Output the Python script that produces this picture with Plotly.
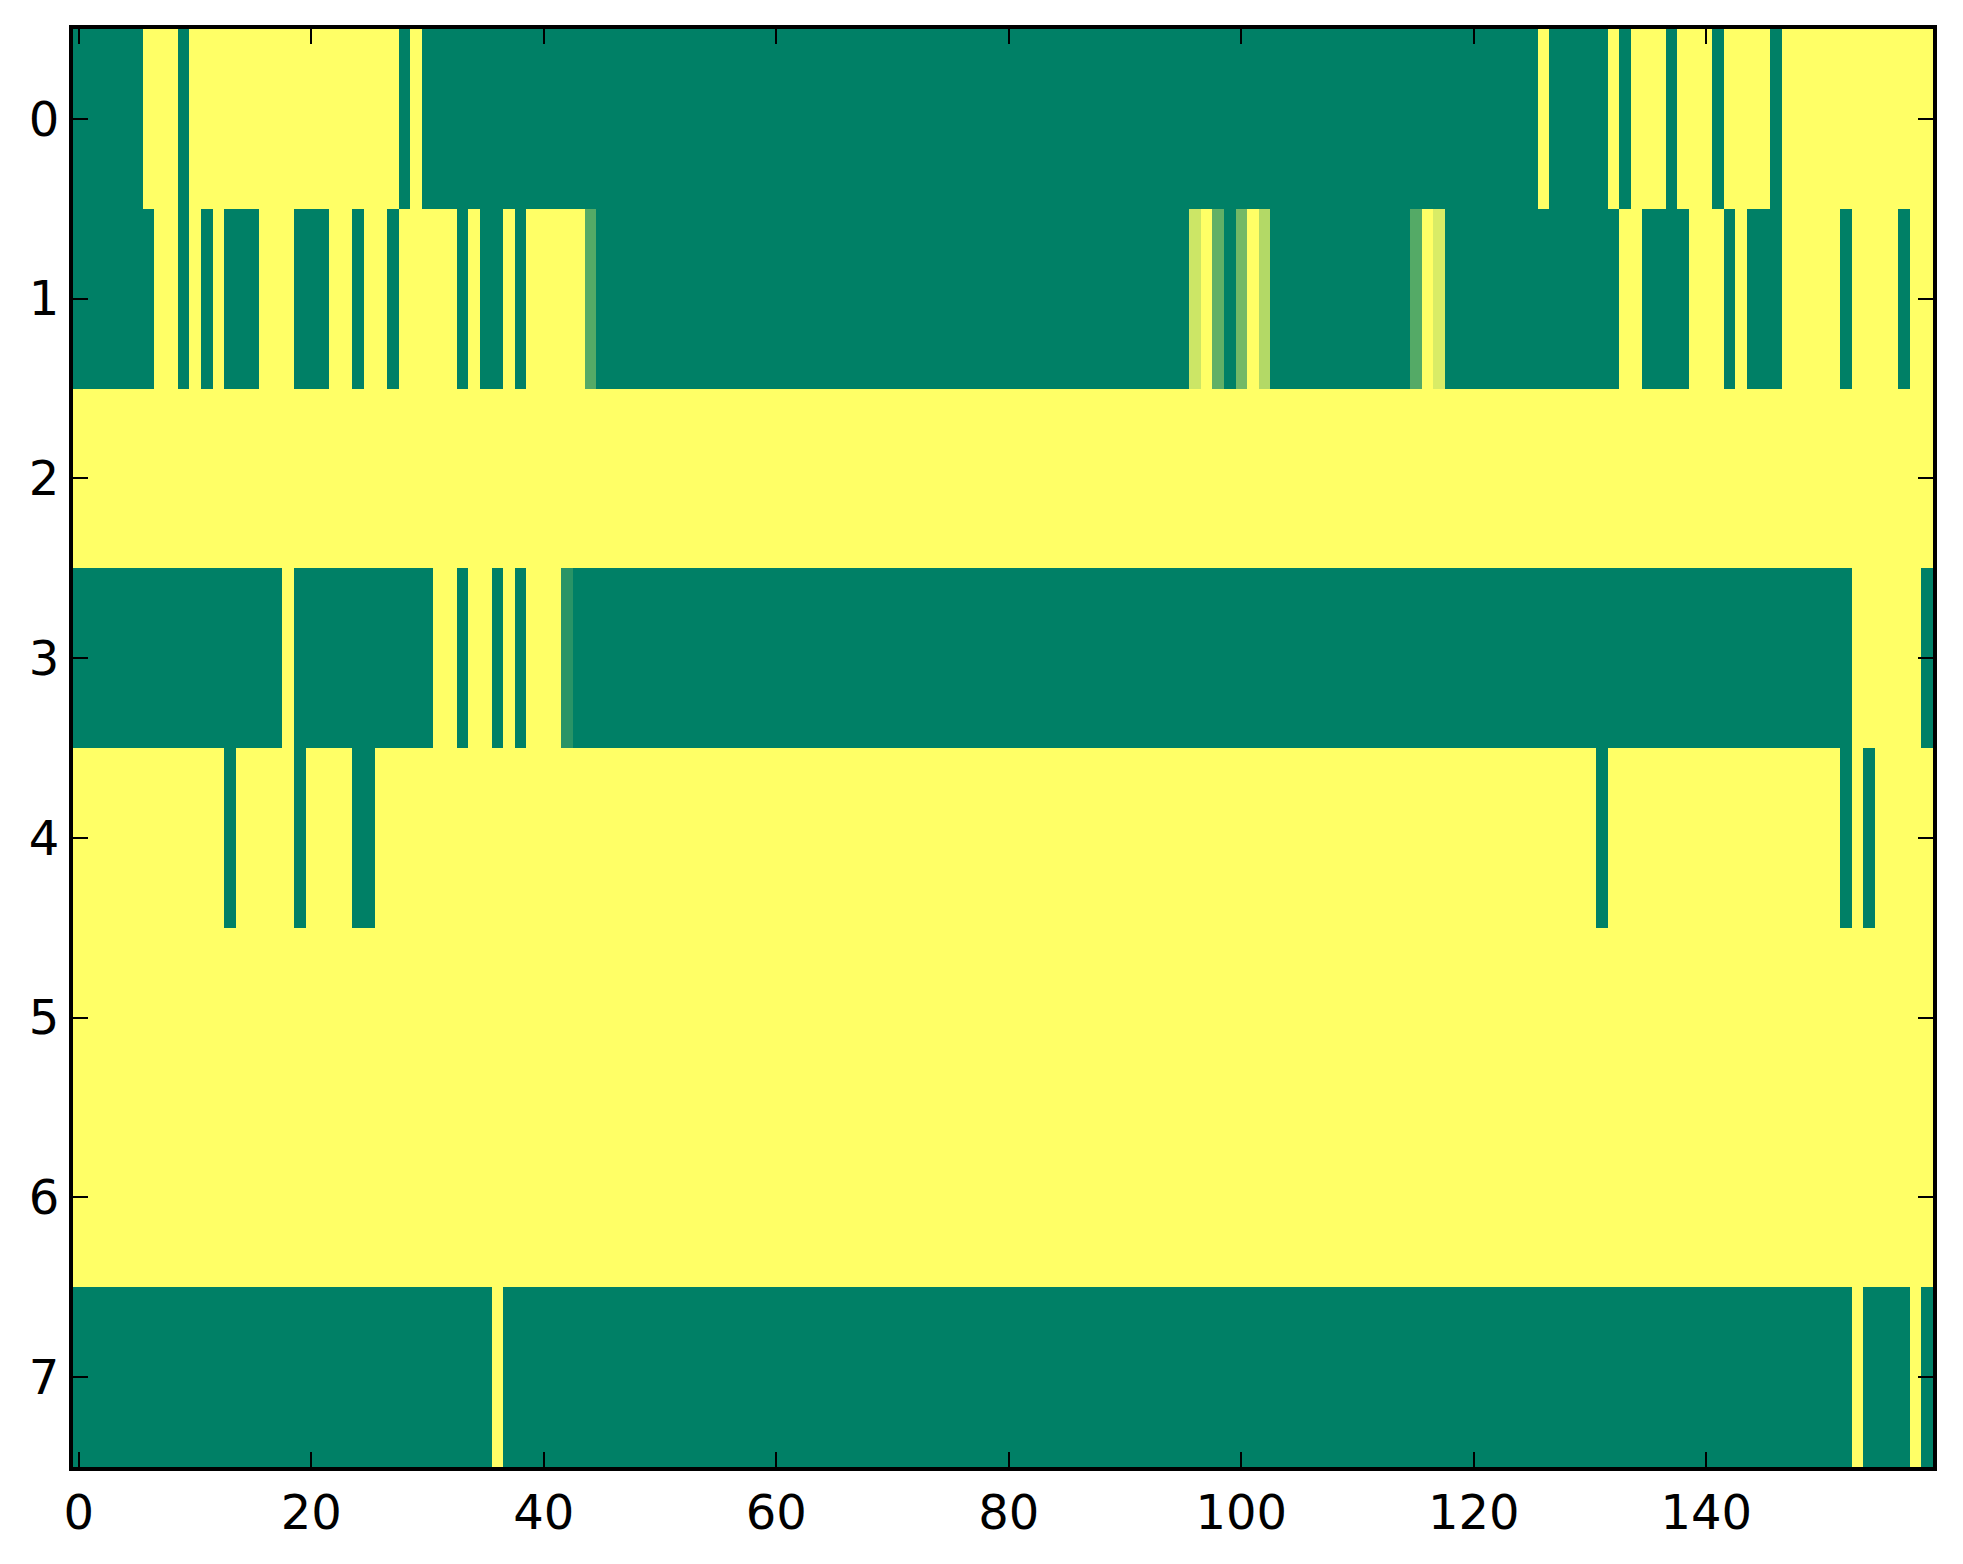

# external
import plotly.graph_objects


##########################
# Cell values, row by row #
##########################

# 8 rows x 160 columns, 0 = green end, 1 = yellow end of the "summer" map
row_0 = [
    0, 0, 0, 0, 0, 0, 1, 1, 1, 0, 1, 1, 1, 1, 1, 1, 1, 1, 1, 1,
    1, 1, 1, 1, 1, 1, 1, 1, 0, 1, 0, 0, 0, 0, 0, 0, 0, 0, 0, 0,
    0, 0, 0, 0, 0, 0, 0, 0, 0, 0, 0, 0, 0, 0, 0, 0, 0, 0, 0, 0,
    0, 0, 0, 0, 0, 0, 0, 0, 0, 0, 0, 0, 0, 0, 0, 0, 0, 0, 0, 0,
    0, 0, 0, 0, 0, 0, 0, 0, 0, 0, 0, 0, 0, 0, 0, 0, 0, 0, 0, 0,
    0, 0, 0, 0, 0, 0, 0, 0, 0, 0, 0, 0, 0, 0, 0, 0, 0, 0, 0, 0,
    0, 0, 0, 0, 0, 0, 1, 0, 0, 0, 0, 0, 1, 0, 1, 1, 1, 0, 1, 1,
    1, 0, 1, 1, 1, 1, 0, 1, 1, 1, 1, 1, 1, 1, 1, 1, 1, 1, 1, 1]

row_1 = [
    0, 0, 0, 0, 0, 0, 0, 1, 1, 0, 1, 0, 1, 0, 0, 0, 1, 1, 1, 0,
    0, 0, 1, 1, 0, 1, 1, 0, 1, 1, 1, 1, 1, 0, 1, 0, 0, 1, 0, 1,
    1, 1, 1, 1, 0.33, 0, 0, 0, 0, 0, 0, 0, 0, 0, 0, 0, 0, 0, 0, 0,
    0, 0, 0, 0, 0, 0, 0, 0, 0, 0, 0, 0, 0, 0, 0, 0, 0, 0, 0, 0,
    0, 0, 0, 0, 0, 0, 0, 0, 0, 0, 0, 0, 0, 0, 0, 0, 0.8, 1, 0.38, 0,
    0.45, 1, 0.7, 0, 0, 0, 0, 0, 0, 0, 0, 0, 0, 0, 0, 0.33, 1, 0.85, 0, 0,
    0, 0, 0, 0, 0, 0, 0, 0, 0, 0, 0, 0, 0, 1, 1, 0, 0, 0, 0, 1,
    1, 1, 0, 1, 0, 0, 0, 1, 1, 1, 1, 1, 0, 1, 1, 1, 1, 0, 1, 1]

row_2 = [
    1, 1, 1, 1, 1, 1, 1, 1, 1, 1, 1, 1, 1, 1, 1, 1, 1, 1, 1, 1,
    1, 1, 1, 1, 1, 1, 1, 1, 1, 1, 1, 1, 1, 1, 1, 1, 1, 1, 1, 1,
    1, 1, 1, 1, 1, 1, 1, 1, 1, 1, 1, 1, 1, 1, 1, 1, 1, 1, 1, 1,
    1, 1, 1, 1, 1, 1, 1, 1, 1, 1, 1, 1, 1, 1, 1, 1, 1, 1, 1, 1,
    1, 1, 1, 1, 1, 1, 1, 1, 1, 1, 1, 1, 1, 1, 1, 1, 1, 1, 1, 1,
    1, 1, 1, 1, 1, 1, 1, 1, 1, 1, 1, 1, 1, 1, 1, 1, 1, 1, 1, 1,
    1, 1, 1, 1, 1, 1, 1, 1, 1, 1, 1, 1, 1, 1, 1, 1, 1, 1, 1, 1,
    1, 1, 1, 1, 1, 1, 1, 1, 1, 1, 1, 1, 1, 1, 1, 1, 1, 1, 1, 1]

row_3 = [
    0, 0, 0, 0, 0, 0, 0, 0, 0, 0, 0, 0, 0, 0, 0, 0, 0, 0, 1, 0,
    0, 0, 0, 0, 0, 0, 0, 0, 0, 0, 0, 1, 1, 0, 1, 1, 0, 1, 0, 1,
    1, 1, 0.16, 0, 0, 0, 0, 0, 0, 0, 0, 0, 0, 0, 0, 0, 0, 0, 0, 0,
    0, 0, 0, 0, 0, 0, 0, 0, 0, 0, 0, 0, 0, 0, 0, 0, 0, 0, 0, 0,
    0, 0, 0, 0, 0, 0, 0, 0, 0, 0, 0, 0, 0, 0, 0, 0, 0, 0, 0, 0,
    0, 0, 0, 0, 0, 0, 0, 0, 0, 0, 0, 0, 0, 0, 0, 0, 0, 0, 0, 0,
    0, 0, 0, 0, 0, 0, 0, 0, 0, 0, 0, 0, 0, 0, 0, 0, 0, 0, 0, 0,
    0, 0, 0, 0, 0, 0, 0, 0, 0, 0, 0, 0, 0, 1, 1, 1, 1, 1, 1, 0]

row_4 = [
    1, 1, 1, 1, 1, 1, 1, 1, 1, 1, 1, 1, 1, 0, 1, 1, 1, 1, 1, 0,
    1, 1, 1, 1, 0, 0, 1, 1, 1, 1, 1, 1, 1, 1, 1, 1, 1, 1, 1, 1,
    1, 1, 1, 1, 1, 1, 1, 1, 1, 1, 1, 1, 1, 1, 1, 1, 1, 1, 1, 1,
    1, 1, 1, 1, 1, 1, 1, 1, 1, 1, 1, 1, 1, 1, 1, 1, 1, 1, 1, 1,
    1, 1, 1, 1, 1, 1, 1, 1, 1, 1, 1, 1, 1, 1, 1, 1, 1, 1, 1, 1,
    1, 1, 1, 1, 1, 1, 1, 1, 1, 1, 1, 1, 1, 1, 1, 1, 1, 1, 1, 1,
    1, 1, 1, 1, 1, 1, 1, 1, 1, 1, 1, 0, 1, 1, 1, 1, 1, 1, 1, 1,
    1, 1, 1, 1, 1, 1, 1, 1, 1, 1, 1, 1, 0, 1, 0, 1, 1, 1, 1, 1]

row_5 = [
    1, 1, 1, 1, 1, 1, 1, 1, 1, 1, 1, 1, 1, 1, 1, 1, 1, 1, 1, 1,
    1, 1, 1, 1, 1, 1, 1, 1, 1, 1, 1, 1, 1, 1, 1, 1, 1, 1, 1, 1,
    1, 1, 1, 1, 1, 1, 1, 1, 1, 1, 1, 1, 1, 1, 1, 1, 1, 1, 1, 1,
    1, 1, 1, 1, 1, 1, 1, 1, 1, 1, 1, 1, 1, 1, 1, 1, 1, 1, 1, 1,
    1, 1, 1, 1, 1, 1, 1, 1, 1, 1, 1, 1, 1, 1, 1, 1, 1, 1, 1, 1,
    1, 1, 1, 1, 1, 1, 1, 1, 1, 1, 1, 1, 1, 1, 1, 1, 1, 1, 1, 1,
    1, 1, 1, 1, 1, 1, 1, 1, 1, 1, 1, 1, 1, 1, 1, 1, 1, 1, 1, 1,
    1, 1, 1, 1, 1, 1, 1, 1, 1, 1, 1, 1, 1, 1, 1, 1, 1, 1, 1, 1]

row_6 = [
    1, 1, 1, 1, 1, 1, 1, 1, 1, 1, 1, 1, 1, 1, 1, 1, 1, 1, 1, 1,
    1, 1, 1, 1, 1, 1, 1, 1, 1, 1, 1, 1, 1, 1, 1, 1, 1, 1, 1, 1,
    1, 1, 1, 1, 1, 1, 1, 1, 1, 1, 1, 1, 1, 1, 1, 1, 1, 1, 1, 1,
    1, 1, 1, 1, 1, 1, 1, 1, 1, 1, 1, 1, 1, 1, 1, 1, 1, 1, 1, 1,
    1, 1, 1, 1, 1, 1, 1, 1, 1, 1, 1, 1, 1, 1, 1, 1, 1, 1, 1, 1,
    1, 1, 1, 1, 1, 1, 1, 1, 1, 1, 1, 1, 1, 1, 1, 1, 1, 1, 1, 1,
    1, 1, 1, 1, 1, 1, 1, 1, 1, 1, 1, 1, 1, 1, 1, 1, 1, 1, 1, 1,
    1, 1, 1, 1, 1, 1, 1, 1, 1, 1, 1, 1, 1, 1, 1, 1, 1, 1, 1, 1]

row_7 = [
    0, 0, 0, 0, 0, 0, 0, 0, 0, 0, 0, 0, 0, 0, 0, 0, 0, 0, 0, 0,
    0, 0, 0, 0, 0, 0, 0, 0, 0, 0, 0, 0, 0, 0, 0, 0, 1, 0, 0, 0,
    0, 0, 0, 0, 0, 0, 0, 0, 0, 0, 0, 0, 0, 0, 0, 0, 0, 0, 0, 0,
    0, 0, 0, 0, 0, 0, 0, 0, 0, 0, 0, 0, 0, 0, 0, 0, 0, 0, 0, 0,
    0, 0, 0, 0, 0, 0, 0, 0, 0, 0, 0, 0, 0, 0, 0, 0, 0, 0, 0, 0,
    0, 0, 0, 0, 0, 0, 0, 0, 0, 0, 0, 0, 0, 0, 0, 0, 0, 0, 0, 0,
    0, 0, 0, 0, 0, 0, 0, 0, 0, 0, 0, 0, 0, 0, 0, 0, 0, 0, 0, 0,
    0, 0, 0, 0, 0, 0, 0, 0, 0, 0, 0, 0, 0, 1, 0, 0, 0, 0, 1, 0]

rows = [row_0, row_1, row_2, row_3, row_4, row_5, row_6, row_7]
for row in rows:
    assert len(row) == 160

x_tick_values = [0, 20, 40, 60, 80, 100, 120, 140]
y_tick_values = [0, 1, 2, 3, 4, 5, 6, 7]


########
# Plot #
########

# matplotlib "summer" is a straight ramp between these two colours
summer = [[0.0, "rgb(0,128,102)"], [1.0, "rgb(255,255,102)"]]

heatmap = plotly.graph_objects.Heatmap(
    z=rows,
    x=list(range(160)),
    y=list(range(8)),
    zmin=0,
    zmax=1,
    colorscale=summer,
    showscale=False)

figure = plotly.graph_objects.Figure(heatmap)

axis_style = dict(
    showline=True,
    linecolor="black",
    linewidth=4,
    mirror="allticks",
    ticks="inside",
    ticklen=15,
    tickwidth=2,
    tickcolor="black",
    showgrid=False,
    zeroline=False,
    tickfont=dict(family="DejaVu Sans", size=48, color="black"))

figure.update_xaxes(
    range=[-0.5, 159.5],
    tickvals=x_tick_values,
    **axis_style)

figure.update_yaxes(
    range=[7.5, -0.5],
    tickvals=y_tick_values,
    **axis_style)

# the page body adds 8px around the figure, so the margins are shifted
figure.update_layout(
    width=1963,
    height=1564,
    margin=dict(l=65, r=38, t=21, b=105),
    paper_bgcolor="white",
    plot_bgcolor="white")

figure.write_html("out.html")
